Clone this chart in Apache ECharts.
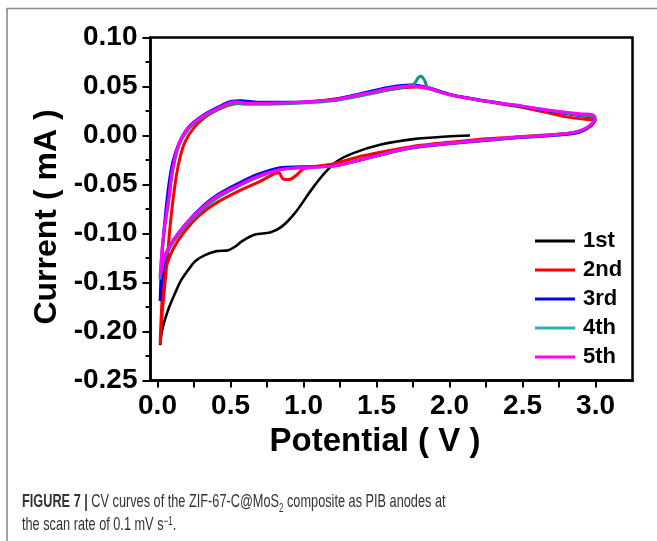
<!DOCTYPE html>
<html><head><meta charset="utf-8">
<script src="https://cdn.jsdelivr.net/npm/echarts@6/dist/echarts.min.js"></script>
<style>html,body{margin:0;padding:0;background:#fff}#c{width:657px;height:541px}</style>
</head><body><div id="c"></div>
<script>
// ---- data (Potential V, Current mA) ----
var seriesNames = ['1st', '2nd', '3rd', '4th', '5th'];
var cycle1 = [[0.018,-0.214],[0.03,-0.2],[0.051,-0.188],[0.08,-0.175],[0.12,-0.161],[0.16,-0.148],[0.211,-0.137],[0.26,-0.128],[0.325,-0.122],[0.405,-0.118],[0.485,-0.117],[0.535,-0.113],[0.577,-0.108],[0.668,-0.101],[0.77,-0.099],[0.851,-0.093],[0.942,-0.079],[1.056,-0.055],[1.147,-0.038],[1.227,-0.0265],[1.341,-0.018],[1.524,-0.0095],[1.752,-0.0037],[1.981,-0.001],[2.14,0.0]];
var cycle2 = [[3.0,0.016],[2.97,0.010],[2.9,0.005],[2.8,0.002],[2.6,0.0],[2.4,-0.002],[2.2,-0.004],[2.0,-0.007],[1.8,-0.010],[1.6,-0.015],[1.4,-0.021],[1.2,-0.029],[1.0,-0.034],[0.955,-0.04],[0.9,-0.045],[0.86,-0.0445],[0.83,-0.038],[0.7,-0.047],[0.565,-0.056],[0.4,-0.069],[0.29,-0.081],[0.18,-0.099],[0.11,-0.115],[0.062,-0.133],[0.035,-0.16],[0.018,-0.213],
  [0.03,-0.185],[0.058,-0.14],[0.088,-0.09],[0.118,-0.052],[0.15,-0.025],[0.19,-0.006],[0.25,0.008],[0.32,0.018],[0.41,0.026],[0.49,0.031],[0.57,0.033],[0.74,0.033],[1.0,0.034],[1.2,0.037],[1.4,0.042],[1.55,0.046],[1.7,0.049],[1.78,0.0495],[1.9,0.046],[2.0,0.042],[2.2,0.036],[2.45,0.030],[2.65,0.024],[2.8,0.019],[2.93,0.0165],[3.0,0.016]];
var cycle3 = [[3.0,0.017],[2.98,0.012],[2.93,0.006],[2.85,0.002],[2.66,-0.0005],[2.44,-0.0025],[2.21,-0.0055],[2.0,-0.0085],[1.8,-0.0115],[1.66,-0.015],[1.44,-0.023],[1.21,-0.031],[0.98,-0.032],[0.84,-0.033],[0.68,-0.04],[0.565,-0.048],[0.406,-0.061],[0.29,-0.075],[0.178,-0.093],[0.11,-0.107],[0.065,-0.12],[0.04,-0.135],[0.025,-0.152],[0.018,-0.169],
  [0.025,-0.14],[0.037,-0.11],[0.055,-0.08],[0.078,-0.05],[0.105,-0.027],[0.15,-0.007],[0.215,0.009],[0.305,0.02],[0.415,0.029],[0.51,0.035],[0.57,0.0355],[0.69,0.034],[0.94,0.034],[1.2,0.0365],[1.44,0.0445],[1.6,0.0495],[1.73,0.0515],[1.85,0.049],[2.0,0.042],[2.16,0.0375],[2.35,0.033],[2.66,0.0255],[2.89,0.0205],[2.98,0.019],[3.0,0.017]];
var cycle4 = [[3.0,0.018],[2.98,0.013],[2.93,0.007],[2.85,0.003],[2.66,0.0],[2.44,-0.002],[2.21,-0.005],[2.0,-0.008],[1.8,-0.011],[1.66,-0.015],[1.44,-0.023],[1.21,-0.031],[0.98,-0.033],[0.84,-0.035],[0.68,-0.043],[0.565,-0.051],[0.406,-0.064],[0.29,-0.078],[0.178,-0.095],[0.11,-0.108],[0.065,-0.12],[0.04,-0.13],[0.025,-0.14],[0.018,-0.147],
  [0.03,-0.12],[0.04,-0.105],[0.056,-0.087],[0.076,-0.068],[0.102,-0.038],[0.145,-0.011],[0.215,0.007],[0.305,0.018],[0.415,0.027],[0.53,0.033],[0.61,0.032],[0.71,0.032],[0.94,0.033],[1.2,0.0355],[1.44,0.042],[1.6,0.047],[1.72,0.0505],[1.76,0.053],[1.785,0.059],[1.805,0.0605],[1.83,0.056],[1.85,0.049],[2.0,0.0415],[2.16,0.037],[2.35,0.033],[2.66,0.026],[2.89,0.021],[2.98,0.0195],[3.0,0.018]];
var cycle5 = [[3.0,0.018],[2.98,0.013],[2.93,0.007],[2.85,0.003],[2.66,0.0],[2.44,-0.002],[2.21,-0.005],[2.0,-0.008],[1.8,-0.011],[1.66,-0.0146],[1.44,-0.023],[1.21,-0.031],[0.975,-0.033],[0.84,-0.035],[0.68,-0.042],[0.565,-0.050],[0.406,-0.062],[0.29,-0.076],[0.178,-0.093],[0.11,-0.106],[0.063,-0.118],[0.04,-0.128],[0.025,-0.138],[0.018,-0.144],
  [0.03,-0.118],[0.04,-0.103],[0.056,-0.085],[0.074,-0.067],[0.1,-0.037],[0.142,-0.01],[0.211,0.008],[0.3,0.019],[0.415,0.028],[0.53,0.0345],[0.61,0.033],[0.71,0.033],[0.94,0.0337],[1.15,0.0357],[1.21,0.0364],[1.44,0.0433],[1.6,0.0484],[1.73,0.0505],[1.85,0.0484],[2.0,0.0415],[2.16,0.0371],[2.35,0.033],[2.44,0.0313],[2.66,0.0262],[2.89,0.0221],[2.98,0.0211],[3.0,0.018]];
var xLabelValues = [0, 0.5, 1.0, 1.5, 2.0, 2.5, 3.0];
var xTickValues = [0, 0.25, 0.5, 0.75, 1.0, 1.25, 1.5, 1.75, 2.0, 2.25, 2.5, 2.75, 3.0];
var yMin = -0.25, yMax = 0.10, yStep = 0.05;
var xMin = -0.048, xMax = 3.253;

var colors = ['#000000', '#ff0000', '#0000ff', '#138f86', '#ff00ff'];
var cycles = [cycle1, cycle2, cycle3, cycle4, cycle5];
var F = 'Liberation Sans, Arial, sans-serif';

var chart = echarts.init(document.getElementById('c'), null, {renderer: 'canvas'});
chart.setOption({
  backgroundColor: '#fff',
  animation: false,
  grid: {left: 150.5, right: 24.5, top: 37.5, bottom: 160.5, show: true, borderColor: '#000', borderWidth: 2.5, backgroundColor: 'transparent'},
  legend: {
    orient: 'vertical', left: 530, top: 225, itemWidth: 40, itemHeight: 3, itemGap: 7, icon: 'rect',
    data: seriesNames.map(function (n, i) { return i === 3 ? {name: n, itemStyle: {color: '#2bb5ad'}} : n; }),
    textStyle: {fontSize: 22, fontWeight: 'bold', fontFamily: F, color: '#000', lineHeight: 22, padding: [0, 0, 0, 3]}
  },
  xAxis: {
    type: 'value', min: xMin, max: xMax,
    name: 'Potential ( V )', nameLocation: 'middle', nameGap: 40,
    nameTextStyle: {fontSize: 33, fontWeight: 'bold', fontFamily: F, color: '#000', padding: [0, 33, 0, 0]},
    axisLine: {show: true, onZero: false, lineStyle: {color: '#000', width: 2.5}},
    axisTick: {show: true, customValues: xTickValues, length: 7, lineStyle: {color: '#000', width: 2}},
    axisLabel: {customValues: xLabelValues, margin: 12, fontSize: 28, fontWeight: 'bold', fontFamily: F, color: '#000',
      formatter: function (v) { return v.toFixed(1); }},
    splitLine: {show: false}
  },
  yAxis: {
    type: 'value', min: yMin, max: yMax, interval: yStep,
    name: 'Current ( mA )', nameLocation: 'middle', nameGap: 85, nameRotate: 90,
    nameTextStyle: {fontSize: 32, fontWeight: 'bold', fontFamily: F, color: '#000', padding: [0, 16, 0, 0]},
    axisLine: {show: true, onZero: false, lineStyle: {color: '#000', width: 2.5}},
    axisTick: {show: true, length: 8, lineStyle: {color: '#000', width: 2}},
    minorTick: {show: true, splitNumber: 2, length: 5, lineStyle: {color: '#000', width: 2}},
    axisLabel: {margin: 13, fontSize: 28, fontWeight: 'bold', fontFamily: F, color: '#000',
      formatter: function (v) { return v.toFixed(2); }},
    splitLine: {show: false}, minorSplitLine: {show: false}
  },
  series: cycles.map(function (d, i) {
    return {
      name: seriesNames[i], type: 'line', data: d, smooth: 0.3, showSymbol: false, symbol: 'none',
      color: colors[i], lineStyle: {color: colors[i], width: i === 0 ? 2.6 : 3}, z: 2 + i
    };
  }),
  graphic: [
    {type: 'polyline', shape: {points: [[7, 541], [7, 8.5], [657, 8.5]]}, style: {stroke: '#8a8a8a', lineWidth: 1.6, fill: null}, silent: true},
    {type: 'text', x: 22, y: 502, scaleX: 0.67, originX: 0,
      style: {text: '{b|FIGURE 7 |} CV curves of the ZIF-67-C@MoS{s|2} composite as PIB anodes at', fontSize: 19, fontFamily: F, fill: '#333', verticalAlign: 'middle',
        rich: {b: {fontWeight: 'bold', fontSize: 19, fontFamily: F, fill: '#333'}, s: {fontSize: 12, fontFamily: F, fill: '#333', verticalAlign: 'bottom', padding: [0, 0, -3, 0]}}}},
    {type: 'text', x: 22, y: 525, scaleX: 0.67, originX: 0,
      style: {text: 'the scan rate of 0.1 mV s{p|\u22121}.', fontSize: 19, fontFamily: F, fill: '#333', verticalAlign: 'middle',
        rich: {p: {fontSize: 12, fontFamily: F, fill: '#333', verticalAlign: 'top', padding: [0, 0, 7, 0]}}}}
  ]
});
</script></body></html>
